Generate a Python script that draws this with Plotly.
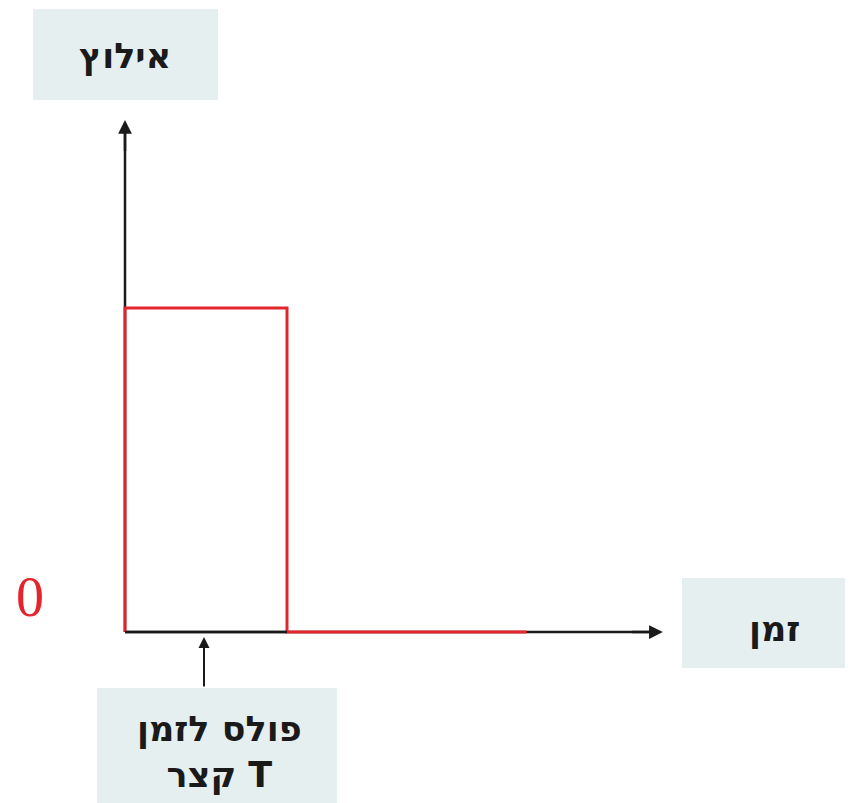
import plotly.graph_objects as go

# --- data ---
pulse_t = [0, 0, 1, 1, 2.48]      # time (T = 1)
pulse_amp = [0, 1, 1, 0, 0]       # amplitude
t_axis_end = 3.32
amp_axis_end = 1.58
label_y = "אילוץ"
label_x = "זמן"
label_pulse = "פולס לזמן<br>קצר T"
zero_label = "0"

W, H = 853, 803
OFF = 8  # page body margin
x0_px, T_px = 125 - OFF, 162
y0_px, A_px = 632 - OFF, 324
xr = [-x0_px / T_px, (W - x0_px) / T_px]
yr = [-(H - y0_px) / A_px, y0_px / A_px]

def px_to_x(p):
    return (p - OFF - x0_px) / T_px

def px_to_y(p):
    return (y0_px - (p - OFF)) / A_px

fig = go.Figure()

# black axes (drawn under red pulse)
fig.add_trace(go.Scatter(x=[0, t_axis_end - 0.05], y=[0, 0], mode="lines",
                         line=dict(color="#1a1a1a", width=2.5), hoverinfo="skip"))
fig.add_trace(go.Scatter(x=[0, 0], y=[0, amp_axis_end - 0.03], mode="lines",
                         line=dict(color="#1a1a1a", width=2.5), hoverinfo="skip"))
# red pulse
fig.add_trace(go.Scatter(x=pulse_t, y=pulse_amp, mode="lines",
                         line=dict(color="#e3262b", width=3), hoverinfo="skip"))
# black baseline over the pulse bottom
fig.add_trace(go.Scatter(x=[0, pulse_t[2]], y=[0, 0], mode="lines",
                         line=dict(color="#1a1a1a", width=2.5), hoverinfo="skip"))

box_col = "#e6eff0"
shapes = [
    dict(type="rect", xref="x", yref="y", x0=px_to_x(33), x1=px_to_x(218),
         y0=px_to_y(100), y1=px_to_y(9), fillcolor=box_col, line=dict(width=0), layer="below"),
    dict(type="rect", xref="x", yref="y", x0=px_to_x(682), x1=px_to_x(870),
         y0=px_to_y(668), y1=px_to_y(578), fillcolor=box_col, line=dict(width=0), layer="below"),
    dict(type="rect", xref="x", yref="y", x0=px_to_x(97), x1=px_to_x(337),
         y0=px_to_y(820), y1=px_to_y(688), fillcolor=box_col, line=dict(width=0), layer="below"),
]

font_b = dict(family="DejaVu Sans, sans-serif", size=35, color="#1a1a1a")
annotations = [
    # axis arrowheads
    dict(x=t_axis_end, y=0, ax=t_axis_end - 0.2, ay=0, xref="x", yref="y", axref="x", ayref="y",
         text="", showarrow=True, arrowhead=2, arrowsize=1.1, arrowwidth=2.5, arrowcolor="#1a1a1a"),
    dict(x=0, y=amp_axis_end, ax=0, ay=amp_axis_end - 0.1, xref="x", yref="y", axref="x", ayref="y",
         text="", showarrow=True, arrowhead=2, arrowsize=1.1, arrowwidth=2.5, arrowcolor="#1a1a1a"),
    # pulse pointer arrow
    dict(x=px_to_x(204), y=px_to_y(637), ax=px_to_x(204), ay=px_to_y(688),
         xref="x", yref="y", axref="x", ayref="y",
         text="", showarrow=True, arrowhead=2, arrowsize=1.1, arrowwidth=2, arrowcolor="#1a1a1a"),
    dict(x=px_to_x(125), y=px_to_y(56), xref="x", yref="y", text="<b>%s</b>" % label_y,
         showarrow=False, font=font_b),
    dict(x=px_to_x(774), y=px_to_y(629), xref="x", yref="y", text="<b>%s</b>" % label_x,
         showarrow=False, font=font_b),
    dict(x=px_to_x(219), y=px_to_y(752), xref="x", yref="y", text="<b>%s</b>" % label_pulse,
         showarrow=False, font=font_b),
    dict(x=px_to_x(30), y=px_to_y(597), xref="x", yref="y", text=zero_label,
         showarrow=False, font=dict(family="Liberation Serif, serif", size=56, color="#e3262b")),
]

fig.update_layout(
    width=W, height=H, margin=dict(l=0, r=0, t=0, b=0),
    paper_bgcolor="white", plot_bgcolor="white", showlegend=False,
    xaxis=dict(range=xr, visible=False, fixedrange=True),
    yaxis=dict(range=yr, visible=False, fixedrange=True),
    shapes=shapes, annotations=annotations,
)

fig.write_html("out.html")
